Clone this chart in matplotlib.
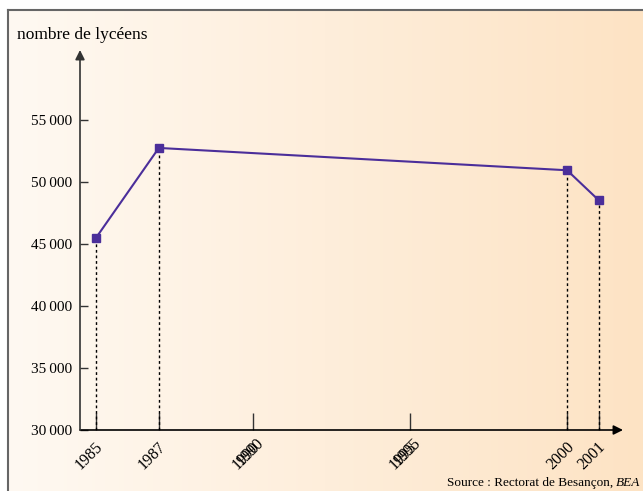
import numpy as np
import matplotlib.pyplot as plt
import matplotlib.transforms as mtransforms
from matplotlib.colors import LinearSegmentedColormap

plt.rcParams['font.family'] = ['Liberation Serif', 'DejaVu Serif']

# Data
years = [1985, 1987, 2000, 2001]
eleves = [45500, 52750, 50950, 48550]
tick_years = [1985, 1987, 1990, 1995, 2000, 2001]
y_ticks = [30000, 35000, 40000, 45000, 50000, 55000]
y_labels = ["30\u2009000", "35\u2009000", "40\u2009000", "45\u2009000",
            "50\u2009000", "55\u2009000"]

W, H = 643, 491
fig = plt.figure(figsize=(W / 100, H / 100), dpi=100)

# background gradient with frame
bg = fig.add_axes([8 / W, 0, 1 - 8 / W, (H - 10) / H])
cmap = LinearSegmentedColormap.from_list("peach", ["#fff9f2", "#fde3c4"])
bg.imshow(np.linspace(0, 1, 256).reshape(1, -1), aspect="auto", cmap=cmap,
          extent=[0, 1, 0, 1])
bg.set_xlim(0, 1)
bg.set_ylim(0, 1)
bg.set_xticks([])
bg.set_yticks([])
for s in ["right", "bottom"]:
    bg.spines[s].set_visible(False)
for s in ["left", "top"]:
    bg.spines[s].set_color("#666666")
    bg.spines[s].set_linewidth(1.5)

# main axes
x0, x1 = 1984.49, 2001.78
y0, y1 = 30000, 60650
ax = fig.add_axes([80 / W, (H - 430) / H, (623 - 80) / W, (430 - 50) / H])
ax.set_facecolor("none")
ax.set_xlim(x0, x1)
ax.set_ylim(y0, y1)
for s in ax.spines.values():
    s.set_visible(False)

# axes with arrows
ax.annotate("", xy=(x1, y0), xytext=(x0, y0),
            arrowprops=dict(arrowstyle="-|>", color="black", lw=1.2,
                            mutation_scale=14, shrinkA=0, shrinkB=0),
            annotation_clip=False)
ax.annotate("", xy=(x0, y1), xytext=(x0, y0),
            arrowprops=dict(arrowstyle="-|>", color="#333333", lw=1.2,
                            mutation_scale=14, shrinkA=0, shrinkB=0),
            annotation_clip=False)

# dotted drop lines
for yr, v in zip(years, eleves):
    ax.plot([yr, yr], [y0, v], color="black", lw=1, ls=(0, (2, 2)), zorder=2)

ax.plot(years, eleves, color="#4b2e9a", lw=1.5, marker="s", ms=6,
        zorder=3, clip_on=False)

ax.set_yticks(y_ticks)
ax.set_yticklabels(y_labels, fontsize=11)
ax.tick_params(axis="y", direction="in", length=6, width=1, pad=6,
               color="#333333")

ax.set_xticks(tick_years)
ax.set_xticklabels([])
ax.tick_params(axis="x", direction="in", length=12, width=1, color="#333333")

# rotated year labels (1990 and 1995 show two overlapping labels)
base = ax.get_xaxis_transform()
for t in tick_years:
    tr = mtransforms.offset_copy(base, fig=fig, x=-1, y=-9, units="dots")
    ax.text(t, 0, str(t), transform=tr, rotation=45, ha="right", va="top",
            rotation_mode="anchor", fontsize=11.5)
    if t in (1990, 1995):
        tr2 = mtransforms.offset_copy(base, fig=fig, x=3, y=-5, units="dots")
        ax.text(t, 0, str(t), transform=tr2, rotation=45, ha="right",
                va="top", rotation_mode="anchor", fontsize=11.5)

fig.text(17 / W, 1 - 35 / H, "nombre de lycéens", fontsize=12.5, va="center")
src = fig.text(640 / W, 1 - 483 / H, "BEA", fontsize=9.5, ha="right",
               va="center", style="italic")
ax.annotate("Source : Rectorat de Besançon,", xy=(0, 0.5), xycoords=src,
            xytext=(-2, 0), textcoords="offset points", fontsize=9.5,
            ha="right", va="center", annotation_clip=False)

fig.savefig("out.png", dpi=100)
